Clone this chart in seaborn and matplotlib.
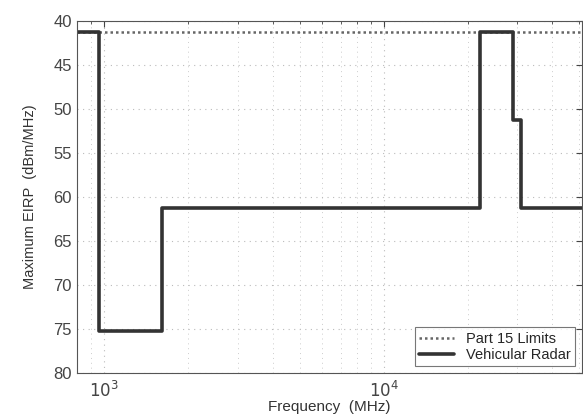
import numpy as np
import pandas as pd
import seaborn as sns
import matplotlib.pyplot as plt

# step breakpoints (MHz) and EIRP levels (dBm/MHz, shown as magnitude)
radar_freq = [800, 960, 1610, 22000, 29000, 31000, 51000]
radar_eirp = [41.3, 75.3, 61.3, 41.3, 51.3, 61.3, 61.3]
part15_freq = [800, 51000]
part15_eirp = [41.3, 41.3]

radar = pd.DataFrame({"freq": radar_freq, "eirp": radar_eirp})
part15 = pd.DataFrame({"freq": part15_freq, "eirp": part15_eirp})

sns.set_style("white")
plt.rcParams["font.family"] = ["Liberation Sans", "DejaVu Sans"]

fig = plt.figure(figsize=(5.83, 4.17), dpi=100)
ax = fig.add_axes([0.132, 0.106, 0.866, 0.844])

sns.lineplot(data=part15, x="freq", y="eirp", ax=ax, color="#666666",
             linestyle=(0, (1, 1.2)), linewidth=1.8, sort=False,
             estimator=None, label="Part 15 Limits")
sns.lineplot(data=radar, x="freq", y="eirp", ax=ax, color="#333333",
             linewidth=2.6, sort=False, estimator=None,
             drawstyle="steps-post", label="Vehicular Radar")

ax.set_xscale("log")
ax.set_xlim(800, 51000)
ax.set_ylim(80, 40)
ax.set_yticks(np.arange(40, 81, 5))
ax.set_xticks([1000, 10000])
ax.set_xticklabels(["$10^3$", "$10^4$"])

ax.grid(True, which="major", linestyle=(0, (1, 4)), color="#bbbbbb", linewidth=0.8)
ax.grid(True, which="minor", axis="x", linestyle=(0, (1, 4)), color="#cccccc", linewidth=0.7)
ax.tick_params(which="both", direction="in", top=True, right=True,
               labelsize=12, colors="#444444")
ax.tick_params(axis="x", which="major", pad=5)
ax.tick_params(which="major", length=4)
ax.tick_params(which="minor", length=2)
for s in ax.spines.values():
    s.set_color("#555555")
    s.set_linewidth(0.8)

ax.set_xlabel("Frequency  (MHz)", fontsize=11, color="#333333", labelpad=0)
ax.set_ylabel("Maximum EIRP  (dBm/MHz)", fontsize=10.5, color="#333333", labelpad=12)

leg = ax.legend(loc="lower right", fontsize=10.5, frameon=True, fancybox=False,
                edgecolor="#555555", handlelength=2.4, borderpad=0.3,
                labelspacing=0.15, borderaxespad=0.45)
leg.get_frame().set_linewidth(0.8)

fig.savefig("out.png", dpi=100)
